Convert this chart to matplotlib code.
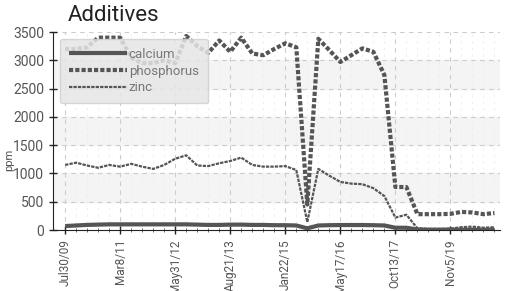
import numpy as np
import matplotlib.pyplot as plt

plt.rcParams['font.family'] = ['Roboto', 'DejaVu Sans']

# sample dates (one label every 5 samples)
tick_labels = ['Jul30/09', 'Mar8/11', 'May31/12', 'Aug21/13',
               'Jan22/15', 'May17/16', 'Oct13/17', 'Nov5/19']

calcium = [70, 80, 90, 95, 100, 100, 100, 100, 100, 100,
           100, 100, 95, 90, 90, 95, 95, 90, 90, 85,
           85, 80, 30, 80, 85, 88, 88, 88, 85, 80,
           40, 40, 10, 5, 5, 5, 5, 5, 5, 5]

phosphorus = [3200, 3200, 3230, 3400, 3400, 3400, 3050, 2950, 2950, 3000,
              2950, 3430, 3250, 3130, 3350, 3150, 3400, 3120, 3090, 3200,
              3300, 3230, 450, 3380, 3180, 2970, 3090, 3210, 3150, 2740,
              760, 760, 280, 280, 280, 285, 320, 310, 280, 300]

zinc = [1150, 1190, 1140, 1100, 1150, 1120, 1170, 1120, 1080, 1150,
        1260, 1320, 1140, 1130, 1180, 1220, 1280, 1150, 1120, 1120,
        1130, 1060, 140, 1080, 960, 850, 820, 810, 740, 600,
        220, 270, 30, 20, 20, 25, 50, 60, 40, 50]

fig = plt.figure(figsize=(5.05, 2.91), dpi=100)
ax = fig.add_axes([0.105, 0.2096, 0.885, 0.6804])

x = np.arange(len(zinc))
line_col = '#555555'

# alternating horizontal bands
for lo in [500, 1500, 2500]:
    ax.axhspan(lo, lo + 500, color='#f4f4f4', zorder=0)

ax.plot(x, calcium, color=line_col, lw=3, solid_capstyle='butt', label='calcium', zorder=3)
ax.plot(x, phosphorus, color=line_col, lw=3, linestyle=(0, (1, 0.5)), label='phosphorus', zorder=3)
ax.plot(x, zinc, color=line_col, lw=1.6, linestyle=(0, (1.5, 0.5)), label='zinc', zorder=3)

ax.set_xlim(-1.1, 39.5)
ax.set_ylim(0, 3500)
ax.set_xticks(np.arange(0, 40, 5))
ax.set_xticklabels(tick_labels, rotation=90, fontsize=8.5)
ax.set_xticks(np.arange(0, 40, 1), minor=True)
ax.set_yticks(np.arange(0, 3501, 500))

ax.grid(True, which='major', color='#cccccc', linestyle=(0, (4, 4)), lw=0.8, zorder=1)
ax.grid(True, which='minor', axis='x', color='#ececec', linestyle=(0, (3, 5)), lw=0.6, zorder=1)

ax.tick_params(axis='both', which='major', direction='inout', length=6, width=1,
               colors='#222222', labelcolor='#555555')
ax.tick_params(axis='y', labelsize=10)
ax.tick_params(axis='x', which='minor', direction='inout', length=3, width=0.6, color='#555555')
for s in ['top', 'right']:
    ax.spines[s].set_visible(False)
ax.spines['left'].set_color('#222222')
ax.spines['bottom'].set_color('#222222')

fig.text(9 / 505, 0.45, 'ppm', fontsize=8, color='#555555', rotation=90,
         ha='center', va='center')
fig.text(0.135, 0.948, 'Additives', fontsize=16, color='#222222', va='center')

leg = ax.legend(loc='upper left', bbox_to_anchor=(0.01, 0.98), frameon=True,
                fontsize=9.5, handlelength=4.4, handletextpad=0.1, borderpad=0.7,
                labelspacing=0.28, fancybox=True, borderaxespad=0.2)
leg.get_frame().set_facecolor('#e6e6e6')
leg.get_frame().set_edgecolor('#d0d0d0')
leg.get_frame().set_alpha(0.85)
for t in leg.get_texts():
    t.set_color('#777777')
leg.set_zorder(5)

fig.savefig('out.png', dpi=100)
